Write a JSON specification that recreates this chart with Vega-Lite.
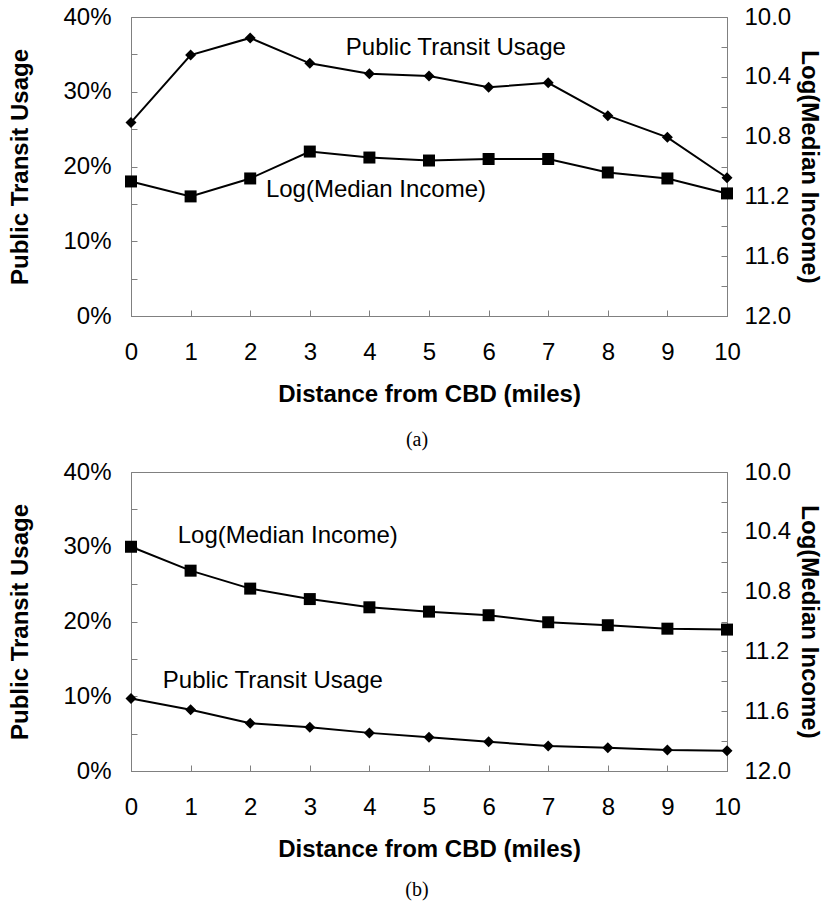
{
  "$schema": "https://vega.github.io/schema/vega-lite/v6.json",
  "background": "white",
  "padding": {"left": 8, "top": 4, "right": 10, "bottom": 0},
  "spacing": 8,
  "config": {
    "font": "Liberation Sans",
    "view": {"stroke": "#808080", "strokeWidth": 1},
    "axis": {
      "grid": false,
      "labelFlush": false,
      "labelOverlap": false,
      "domainColor": "#808080",
      "tickColor": "#808080",
      "tickSize": -6,
      "labelFont": "Liberation Sans",
      "labelFontSize": 24,
      "labelColor": "black",
      "titleFont": "Liberation Sans",
      "titleFontSize": 24,
      "titleFontWeight": "bold",
      "titleColor": "black"
    },
    "title": {"font": "Liberation Serif", "fontSize": 20, "fontWeight": "normal", "color": "black"}
  },
  "datasets": {
    "a": [
      {"d": 0, "transit": 0.259, "income": 11.10},
      {"d": 1, "transit": 0.349, "income": 11.20},
      {"d": 2, "transit": 0.372, "income": 11.08},
      {"d": 3, "transit": 0.338, "income": 10.90},
      {"d": 4, "transit": 0.324, "income": 10.94},
      {"d": 5, "transit": 0.321, "income": 10.96},
      {"d": 6, "transit": 0.306, "income": 10.95},
      {"d": 7, "transit": 0.312, "income": 10.95},
      {"d": 8, "transit": 0.268, "income": 11.04},
      {"d": 9, "transit": 0.239, "income": 11.08},
      {"d": 10, "transit": 0.185, "income": 11.18}
    ],
    "b": [
      {"d": 0, "transit": 0.097, "income": 10.50},
      {"d": 1, "transit": 0.082, "income": 10.66},
      {"d": 2, "transit": 0.064, "income": 10.78},
      {"d": 3, "transit": 0.0585, "income": 10.85},
      {"d": 4, "transit": 0.051, "income": 10.905},
      {"d": 5, "transit": 0.045, "income": 10.934},
      {"d": 6, "transit": 0.039, "income": 10.958},
      {"d": 7, "transit": 0.0335, "income": 11.005},
      {"d": 8, "transit": 0.031, "income": 11.025},
      {"d": 9, "transit": 0.028, "income": 11.048},
      {"d": 10, "transit": 0.027, "income": 11.054}
    ],
    "labelsA": [
      {"d": 5.45, "transit": 0.359, "label": "Public Transit Usage"},
      {"d": 4.11, "transit": 0.169, "label": "Log(Median Income)"}
    ],
    "labelsB": [
      {"d": 2.63, "transit": 0.314, "label": "Log(Median Income)"},
      {"d": 2.38, "transit": 0.121, "label": "Public Transit Usage"}
    ]
  },
  "vconcat": [
    {
      "width": 596,
      "height": 299,
      "data": {"name": "a"},
      "title": {"text": "(a)", "orient": "bottom", "offset": 24, "dx": -12},
      "encoding": {
        "x": {"field": "d", "type": "quantitative", "title": "Distance from CBD (miles)",
          "scale": {"domain": [0, 10], "nice": false, "zero": false},
          "axis": {"values": [0,1,2,3,4,5,6,7,8,9,10], "labelPadding": 30, "titlePadding": 18}}
      },
      "layer": [
        {
          "encoding": {
            "y": {"field": "transit", "type": "quantitative", "title": "Public Transit Usage",
              "scale": {"domain": [0, 0.4], "nice": false},
              "axis": {"orient": "left", "values": [0,0.05,0.1,0.15,0.2,0.25,0.3,0.35,0.4], "format": ".0%",
                "labelExpr": "round(datum.value*100) % 10 == 0 ? datum.label : ''", "labelPadding": 26, "titlePadding": 30}}
          },
          "layer": [
            {"mark": {"type": "line", "color": "black", "strokeWidth": 2}},
            {"mark": {"type": "point", "shape": "diamond", "filled": true, "color": "black", "opacity": 1, "size": 121}},
            {"data": {"name": "labelsA"}, "mark": {"type": "text", "fontSize": 24, "color": "black", "font": "Liberation Sans"},
              "encoding": {"text": {"field": "label"}}}
          ]
        },
        {
          "encoding": {
            "y": {"field": "income", "type": "quantitative", "title": "Log(Median Income)",
              "scale": {"domain": [10, 12], "nice": false, "zero": false, "reverse": true},
              "axis": {"orient": "right", "values": [10,10.2,10.4,10.6,10.8,11,11.2,11.4,11.6,11.8,12], "format": ".1f",
                "labelExpr": "round(datum.value*10) % 4 == 0 ? datum.label : ''", "labelPadding": 23, "titlePadding": 6}}
          },
          "layer": [
            {"mark": {"type": "line", "color": "black", "strokeWidth": 2}},
            {"mark": {"type": "point", "shape": "square", "filled": true, "color": "black", "opacity": 1, "size": 144}}
          ]
        }
      ],
      "resolve": {"scale": {"y": "independent"}, "axis": {"y": "independent"}}
    },
    {
      "width": 596,
      "height": 299,
      "data": {"name": "b"},
      "title": {"text": "(b)", "orient": "bottom", "offset": 19, "dx": -12},
      "encoding": {
        "x": {"field": "d", "type": "quantitative", "title": "Distance from CBD (miles)",
          "scale": {"domain": [0, 10], "nice": false, "zero": false},
          "axis": {"values": [0,1,2,3,4,5,6,7,8,9,10], "labelPadding": 30, "titlePadding": 18}}
      },
      "layer": [
        {
          "encoding": {
            "y": {"field": "transit", "type": "quantitative", "title": "Public Transit Usage",
              "scale": {"domain": [0, 0.4], "nice": false},
              "axis": {"orient": "left", "values": [0,0.05,0.1,0.15,0.2,0.25,0.3,0.35,0.4], "format": ".0%",
                "labelExpr": "round(datum.value*100) % 10 == 0 ? datum.label : ''", "labelPadding": 26, "titlePadding": 30}}
          },
          "layer": [
            {"mark": {"type": "line", "color": "black", "strokeWidth": 2}},
            {"mark": {"type": "point", "shape": "diamond", "filled": true, "color": "black", "opacity": 1, "size": 121}},
            {"data": {"name": "labelsB"}, "mark": {"type": "text", "fontSize": 24, "color": "black", "font": "Liberation Sans"},
              "encoding": {"text": {"field": "label"}}}
          ]
        },
        {
          "encoding": {
            "y": {"field": "income", "type": "quantitative", "title": "Log(Median Income)",
              "scale": {"domain": [10, 12], "nice": false, "zero": false, "reverse": true},
              "axis": {"orient": "right", "values": [10,10.2,10.4,10.6,10.8,11,11.2,11.4,11.6,11.8,12], "format": ".1f",
                "labelExpr": "round(datum.value*10) % 4 == 0 ? datum.label : ''", "labelPadding": 23, "titlePadding": 6}}
          },
          "layer": [
            {"mark": {"type": "line", "color": "black", "strokeWidth": 2}},
            {"mark": {"type": "point", "shape": "square", "filled": true, "color": "black", "opacity": 1, "size": 144}}
          ]
        }
      ],
      "resolve": {"scale": {"y": "independent"}, "axis": {"y": "independent"}}
    }
  ]
}
